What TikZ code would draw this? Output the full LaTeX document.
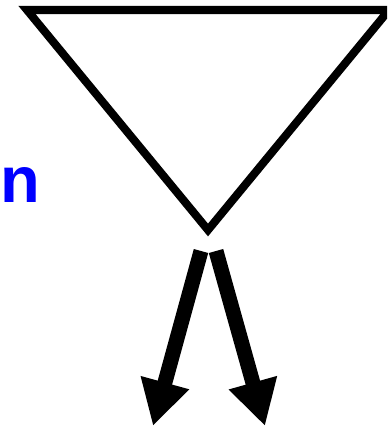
\documentclass[tikz,border=0pt]{standalone}
\usepackage{fontspec}
\setmainfont{Liberation Sans}
\usetikzlibrary{arrows.meta}
\definecolor{LabelBlue}{HTML}{0000FF}

\begin{document}
\begin{tikzpicture}[x=0.02cm,y=-0.02cm]
\path[use as bounding box] (0,0) rectangle (387,428);
\clip (0,0) rectangle (387,428);
\coordinate (cornerL) at (27,10);
\coordinate (cornerR) at (389,10);
\coordinate (apex) at (208,230);
\draw[line width=4.6pt,miter limit=10] (cornerL) -- (cornerR) -- (apex) -- cycle;
\node[anchor=base west,inner sep=0pt,text=LabelBlue,font=\fontsize{37}{40}\selectfont\bfseries] (lbl) at (0,203) {n};
\coordinate (startL) at (201,251);
\coordinate (startR) at (216,251);
\coordinate (tipL) at (153,426);
\coordinate (tipR) at (265,426);
\draw[line width=8.5pt,-{Triangle[length=0.9cm,width=0.94cm]}] (startL) -- (tipL);
\draw[line width=8.5pt,-{Triangle[length=0.9cm,width=0.94cm]}] (startR) -- (tipR);
\end{tikzpicture}
\end{document}
